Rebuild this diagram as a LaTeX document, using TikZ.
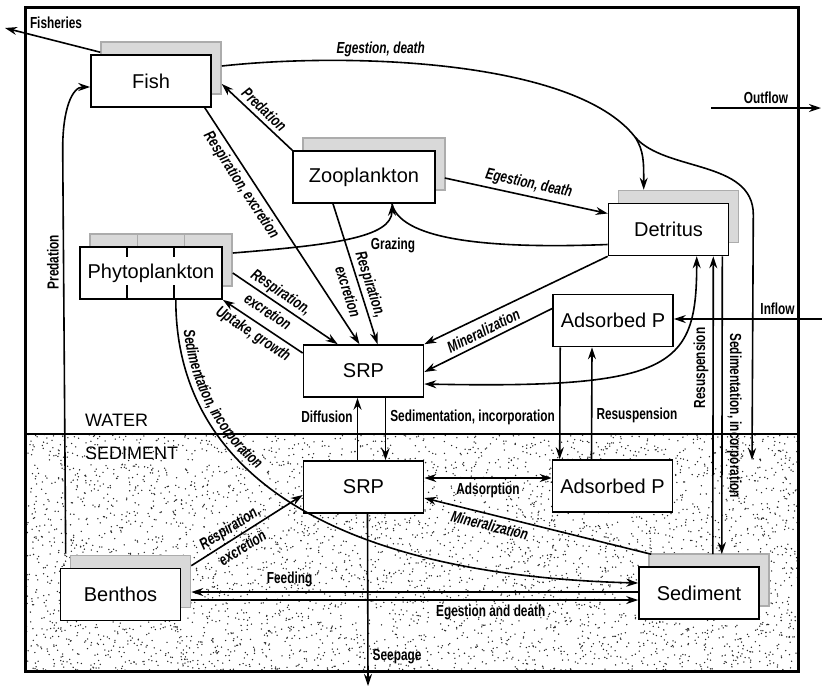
\documentclass[tikz,border=0pt]{standalone}
\usepackage{fontspec}
\setmainfont{Liberation Sans}
\newfontfamily\flowfont[FakeStretch=0.74]{Liberation Sans}
\usetikzlibrary{arrows.meta,calc,shadows,decorations.text}

\begin{document}
\begin{tikzpicture}
        [
            x=0.5pt, y=-0.5pt,
            >={Stealth[length=6pt,width=4pt]},
            box/.style={rectangle, thick, draw=black, fill=white, minimum width=60pt, minimum height=26pt, font=\fontsize{10}{12}\selectfont},
            sbox/.style={box, general shadow={shadow xshift=5pt, shadow yshift=6.5pt, fill=gray!30, draw=gray!65}},
            flow/.style={font=\flowfont\bfseries\fontsize{8}{9}\selectfont, inner sep=2pt},
            flowit/.style={font=\flowfont\bfseries\itshape\fontsize{8}{9}\selectfont, inner sep=2pt, align=center},
            link/.style={thick}
        ]
        \useasboundingbox (0,0) rectangle (822,687);
        % sediment stipple
        \pgfmathsetseed{42}
        \foreach \k in {1,...,4500}
            \fill[black!85] ({25+773*rnd},{434+237*rnd}) circle (0.38pt);
        % frame and water/sediment interface
        \draw[line width=1.5pt] (25,7) rectangle (798,671);
        \draw[line width=1.2pt] (25,434) -- (798,434);
        \node[anchor=west, font=\fontsize{9}{10}\selectfont] (water) at (78,420) {WATER};
        \node[anchor=west, font=\fontsize{9}{10}\selectfont] (sedlabel) at (78,453) {SEDIMENT};

        % compartments
        \node[sbox] (fish) at (151,81) {Fish};
        \node[sbox, minimum width=71pt] (zoo) at (364,177) {Zooplankton};
        \node[sbox] (detritus) at (668.5,229.5) {Detritus};
        \node[sbox, minimum width=71pt] (phyto) at (151,273) {Phytoplankton};
        \node[box] (srpw) at (363.5,371) {SRP};
        \node[box] (adsw) at (613,320.5) {Adsorbed P};
        \node[box] (srps) at (363.5,487) {SRP};
        \node[box] (adss) at (612.5,486) {Adsorbed P};
        \node[sbox] (sediment) at (699,593) {Sediment};
        \node[sbox] (benthos) at (120.5,594.5) {Benthos};
        % phytoplankton dividers
        \foreach \dx in {48,95} {
            \draw[thick] ($(phyto.north west)+(\dx,0)$) -- ++(0,11);
            \draw[thick] ($(phyto.south west)+(\dx,0)$) -- ++(0,-15);
            \draw[gray!65] ($(phyto.north west)+(\dx+10,0)$) -- ++(0,-13);
        }

        % free ends
        \coordinate (fisheries) at (5,28);
        \coordinate (split) at (635,137);
        \coordinate (sedin) at (752,460);
        \coordinate (inflow) at (822,319);
        \coordinate (outflow) at (711,108);
        \coordinate (outend) at (821,108);
        \coordinate (seepage) at (368,686);

        % Fish
        \draw[link, ->] ($(fish.north west)+(10,-2)$) -- (fisheries);
        \node[flow] (fishlabel) at (56,23) {Fisheries};
        \draw[link] ($(fish.east)+(10,-15)$) .. controls (350,52) and (575,60) .. node[flowit, above, pos=0.35] {Egestion, death} (split);
        \draw[link, ->] (split) .. controls +(9,14) and +(0,-28) .. ($(detritus.north west)+(36,-13)$);
        \draw[link, ->] (split) .. controls +(30,35) and +(0,-55) .. ($(detritus.north east)+(24,12)$) -- (sedin);
        \draw[link, ->] ($(fish.south east)+(-7,0)$) -- node[flowit, sloped, below, pos=0.3] {Respiration, excretion} ($(srpw.north)+(-4,0)$);
        % Zooplankton
        \draw[link, ->] (zoo.north west) -- node[flowit, sloped, above] {Predation} ($(fish.east)+(10,3)$);
        \draw[link, ->] ($(zoo.south)+(-31,0)$) -- node[flowit, sloped, pos=0.6] {Respiration,\\[3pt]excretion} ($(srpw.north)+(14,0)$);
        \draw[link, ->] ($(zoo.east)+(9,1)$) -- node[flowit, sloped, above, pos=0.5] {Egestion, death} ($(detritus.west)+(0,-16)$);
        % Grazing
        \draw[link, ->] ($(phyto.east)+(10,-20)$) .. controls +(98,-8) and +(0,34) .. ($(zoo.south)+(28,0)$);
        \draw[link] ($(detritus.west)+(0,15)$) .. controls +(-129,5) and +(8,34) .. ($(zoo.south)+(28,0)$);
        \node[flow] (grazing) at ($(zoo.south)+(29,42)$) {Grazing};
        % Phytoplankton
        \draw[link, ->] ($(phyto.east)+(10,0)$) -- node[flowit, sloped, pos=0.4] {Respiration,\\[3pt]excretion} ($(srpw.north west)+(35,0)$);
        \draw[link, ->] ($(srpw.west)+(0,-18)$) -- node[flowit, sloped, below, pos=0.54] {Uptake, growth} (phyto.south east);
        \draw[link, ->, postaction={-, decorate, decoration={text along path, raise=3pt, text align={left indent=16pt},
                text={|\flowfont\bfseries\itshape\fontsize{8}{9}\selectfont|Sedimentation, incorporation}}}]
            ($(phyto.south east)+(-47,0)$) .. controls +(0,171) and +(-309,-8) .. ($(sediment.west)+(0,-10)$);
        % Detritus and adsorbed P to SRP
        \draw[link, ->] (detritus.south west) -- (srpw.north east);
        \draw[link, ->] ($(adsw.west)+(0,-12)$) -- node[flowit, sloped, above] {Mineralization} ($(srpw.east)+(0,1)$);
        \draw[link, <->] ($(srpw.east)+(0,13)$) .. controls +(250,5) and +(0,110) .. ($(detritus.south west)+(89,0)$);
        % Inflow, outflow
        \draw[link, ->] (inflow) -- node[flow, above, pos=0.3] {Inflow} (inflow -| adsw.east);
        \draw[link, ->] (outflow) -- node[flow, above] {Outflow} (outend);
        % Detritus and sediment
        \draw[link, ->] ($(detritus.south east)+(-7,0)$) -- node[flow, rotate=-90, anchor=south, pos=0.535] {Sedimentation, incorporation} ($(sediment.north east)+(-38,-12)$);
        \draw[link, ->] ($(sediment.north east)+(-47,-12)$) -- node[flow, rotate=90, anchor=south, pos=0.625] {Resuspension} ($(detritus.south east)+(-16,0)$);
        % Water to sediment
        \draw[link, ->] ($(srps.north)+(-6,0)$) -- node[flow, left, pos=0.69] {Diffusion} ($(srpw.south)+(-6,0)$);
        \draw[link, ->] ($(srpw.south)+(22,0)$) -- node[flow, right, pos=0.31] {Sedimentation, incorporation} ($(srps.north)+(22,0)$);
        \draw[link, ->] ($(adsw.south west)+(8,0)$) -- ($(adss.north west)+(8,0)$);
        \draw[link, ->] ($(adss.north)+(-21,0)$) -- node[flow, right, pos=0.39] {Resuspension} ($(adsw.south)+(-21,0)$);
        % Sediment compartment
        \draw[link, <->] ($(srps.east)+(0,-9)$) -- node[flow, below] {Adsorption} ($(adss.west)+(0,-8)$);
        \draw[link, ->] ($(sediment.north west)+(13,-12)$) -- node[flowit, sloped, below, pos=0.7] {Mineralization} ($(srps.east)+(0,11)$);
        \draw[link, ->] ($(benthos.north east)+(10,-2)$) -- node[flowit, sloped, pos=0.4] {Respiration,\\[3pt]excretion} ($(srps.west)+(0,8)$);
        \draw[link, ->] ($(sediment.west)+(0,-1)$) -- node[flow, above, pos=0.78] {Feeding} ($(benthos.east)+(10,-2.5)$);
        \draw[link, ->] ($(benthos.east)+(10,5.5)$) -- node[flow, below, pos=0.67] {Egestion and death} ($(sediment.west)+(0,7)$);
        \draw[link, ->] ($(benthos.north west)+(6,-14)$) -- node[flow, rotate=90, anchor=south, pos=0.72] {Predation} ++(-3,-405)
            .. controls +(0,-40) and +(-18,0) .. ($(fish.west)+(0,6)$);
        \draw[link, ->] ($(srps.south)+(4,0)$) -- node[flow, right, pos=0.83] {Seepage} (seepage);
    \end{tikzpicture}
\end{document}
